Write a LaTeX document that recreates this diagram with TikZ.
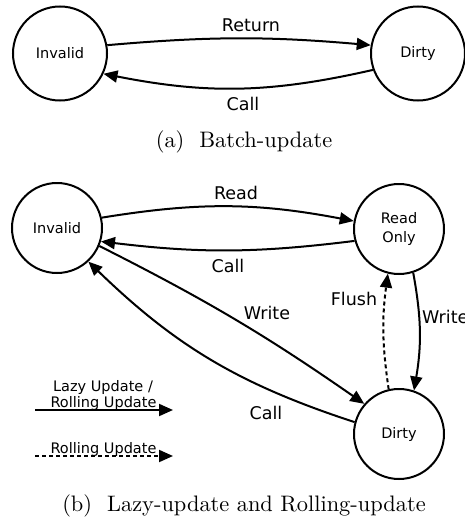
\documentclass[tikz,border=0pt]{standalone}
\usepackage{fontspec}
\newfontfamily\dejavu{DejaVu Sans}
\newfontfamily\capfont{lmroman10-regular.otf}
\usetikzlibrary{arrows.meta}
\tikzset{
  state/.style={circle, draw, line width=2pt, inner sep=0pt, align=center,
    font=\dejavu\fontsize{14.5}{19}\selectfont},
  bigstate/.style={state, minimum size=94pt},
  smallstate/.style={state, minimum size=90pt},
  trans/.style={line width=2pt, -{Triangle[length=14pt,width=12pt]}},
  dashedline/.style={dash pattern=on 4pt off 3pt},
  lbl/.style={font=\dejavu\fontsize{17.5}{20}\selectfont, inner sep=0pt, anchor=base},
  legtxt/.style={font=\dejavu\fontsize{14.5}{16}\selectfont, inner sep=0pt, anchor=base},
  captext/.style={font=\capfont\fontsize{22.4}{27}\selectfont, inner sep=0pt, anchor=base},
}
\begin{document}
\begin{tikzpicture}
\useasboundingbox (0,0) rectangle (464pt,-519pt);
\begin{scope}[x=1pt,y=1pt]
  % batch-update
  \node[bigstate] (inv1) at (60,-53.5) {Invalid};
  \node[bigstate] (dirty1) at (418,-53.5) {Dirty};
  \draw[trans] (inv1.10) to[bend left=5] (dirty1.170);
  \draw[trans] (dirty1.200) to[bend left=12] (inv1.335);
  \node[lbl] (ret1) at (251,-31.5) {Return};
  \node[lbl] (call1) at (243,-110.5) {Call};
  \node[captext] (capa) at (244,-147) {(a)\ \ Batch-update};

  % lazy-update and rolling-update
  \node[smallstate] (inv2) at (57,-228) {Invalid};
  \node[smallstate] (ro) at (399,-229) {Read\\Only};
  \node[smallstate] (dirty2) at (399,-434) {Dirty};
  \draw[trans] (inv2.13) to[bend left=10] (ro.170);
  \draw[trans] (ro.195) to[bend left=7] (inv2.343);
  \draw[trans] (inv2.337) to[bend left=4] (dirty2.139);
  \draw[trans] (dirty2.165) to[bend left=13] (inv2.313);
  \draw[trans,dashedline] (dirty2.103) to[bend left=8] (ro.256);
  \draw[trans] (ro.288) to[bend left=10] (dirty2.71);
  \node[lbl] (read2) at (236,-199) {Read};
  \node[lbl] (call2) at (228,-272) {Call};
  \node[lbl] (write2) at (267,-319) {Write};
  \node[lbl] (call3) at (266,-419) {Call};
  \node[lbl] (flush2) at (354,-305) {Flush};
  \node[lbl, anchor=base west] (write3) at (422,-323) {Write};

  % legend
  \coordinate (la) at (35,-410);
  \coordinate (lb) at (173,-410);
  \coordinate (lc) at (35,-456);
  \coordinate (ld) at (173,-456);
  \draw[trans] (la) -- (lb);
  \draw[trans,dashedline] (lc) -- (ld);
  \node[legtxt] (leg1a) at (103,-391) {Lazy Update /};
  \node[legtxt] (leg1b) at (103.5,-407) {Rolling Update};
  \node[legtxt] (leg2) at (103.5,-453) {Rolling Update};

  \node[captext] (capb) at (244,-511) {(b)\ \ Lazy-update and Rolling-update};
\end{scope}
\end{tikzpicture}
\end{document}
